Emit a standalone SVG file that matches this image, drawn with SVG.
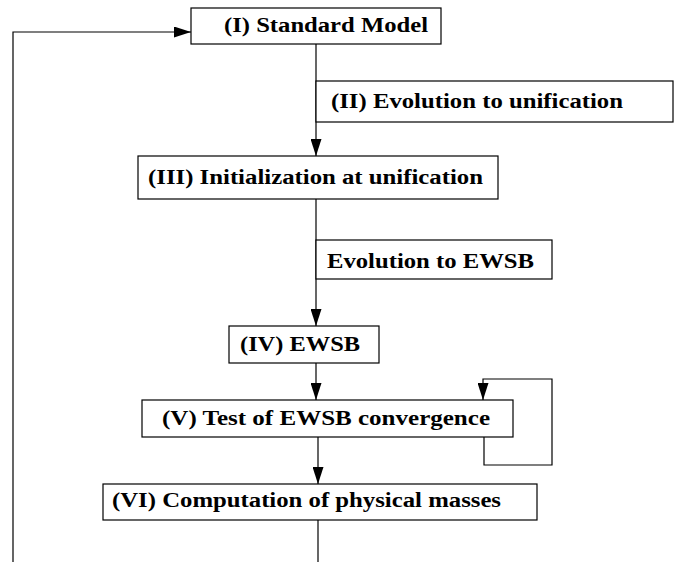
<svg xmlns="http://www.w3.org/2000/svg" width="681" height="562" viewBox="0 0 681 562">
<style>
.box{fill:#fff;stroke:#000;stroke-width:1.2}
.lbl{font-family:"Liberation Serif","DejaVu Serif",serif;font-weight:bold;font-size:20px;fill:#000}
.con{fill:none;stroke:#000;stroke-width:1.2}
</style>
<defs>
<marker id="ah" markerUnits="userSpaceOnUse" markerWidth="17" markerHeight="11" refX="17" refY="5.5" orient="auto">
<path d="M0,0 L17,5.5 L0,11 z" fill="#000"/>
</marker>
</defs>
<rect width="681" height="562" fill="#fff"/>
<g id="connectors">
<path class="con" d="M316,44 V156" marker-end="url(#ah)"/>
<path class="con" d="M316,199 V326" marker-end="url(#ah)"/>
<path class="con" d="M316,363 V400" marker-end="url(#ah)"/>
<path class="con" d="M318,437 V484" marker-end="url(#ah)"/>
<path class="con" d="M318,520 V562"/>
<path class="con" d="M13,562 V32 H191" marker-end="url(#ah)"/>
<path class="con" d="M484,437 V465 H552 V379 H483 V400" marker-end="url(#ah)"/>
</g>
<g id="n1">
<rect class="box" x="191" y="8" width="250" height="36"/>
<text class="lbl" x="224" y="32" textLength="204" lengthAdjust="spacingAndGlyphs">(I) Standard Model</text>
</g>
<g id="n2">
<rect class="box" x="316" y="81" width="357" height="41"/>
<text class="lbl" x="331" y="108" textLength="292" lengthAdjust="spacingAndGlyphs">(II) Evolution to unification</text>
</g>
<g id="n3">
<rect class="box" x="138" y="156" width="360" height="43"/>
<text class="lbl" x="148" y="184" textLength="335" lengthAdjust="spacingAndGlyphs">(III) Initialization at unification</text>
</g>
<g id="n3b">
<rect class="box" x="316" y="240" width="236" height="39"/>
<text class="lbl" x="327" y="268" textLength="207" lengthAdjust="spacingAndGlyphs">Evolution to EWSB</text>
</g>
<g id="n4">
<rect class="box" x="229" y="326" width="150" height="37"/>
<text class="lbl" x="240" y="351" textLength="120" lengthAdjust="spacingAndGlyphs">(IV) EWSB</text>
</g>
<g id="n5">
<rect class="box" x="142" y="400" width="371" height="37"/>
<text class="lbl" x="162" y="425" textLength="328" lengthAdjust="spacingAndGlyphs">(V) Test of EWSB convergence</text>
</g>
<g id="n6">
<rect class="box" x="103" y="484" width="434" height="36"/>
<text class="lbl" x="112" y="507" textLength="389" lengthAdjust="spacingAndGlyphs">(VI) Computation of physical masses</text>
</g>
</svg>
